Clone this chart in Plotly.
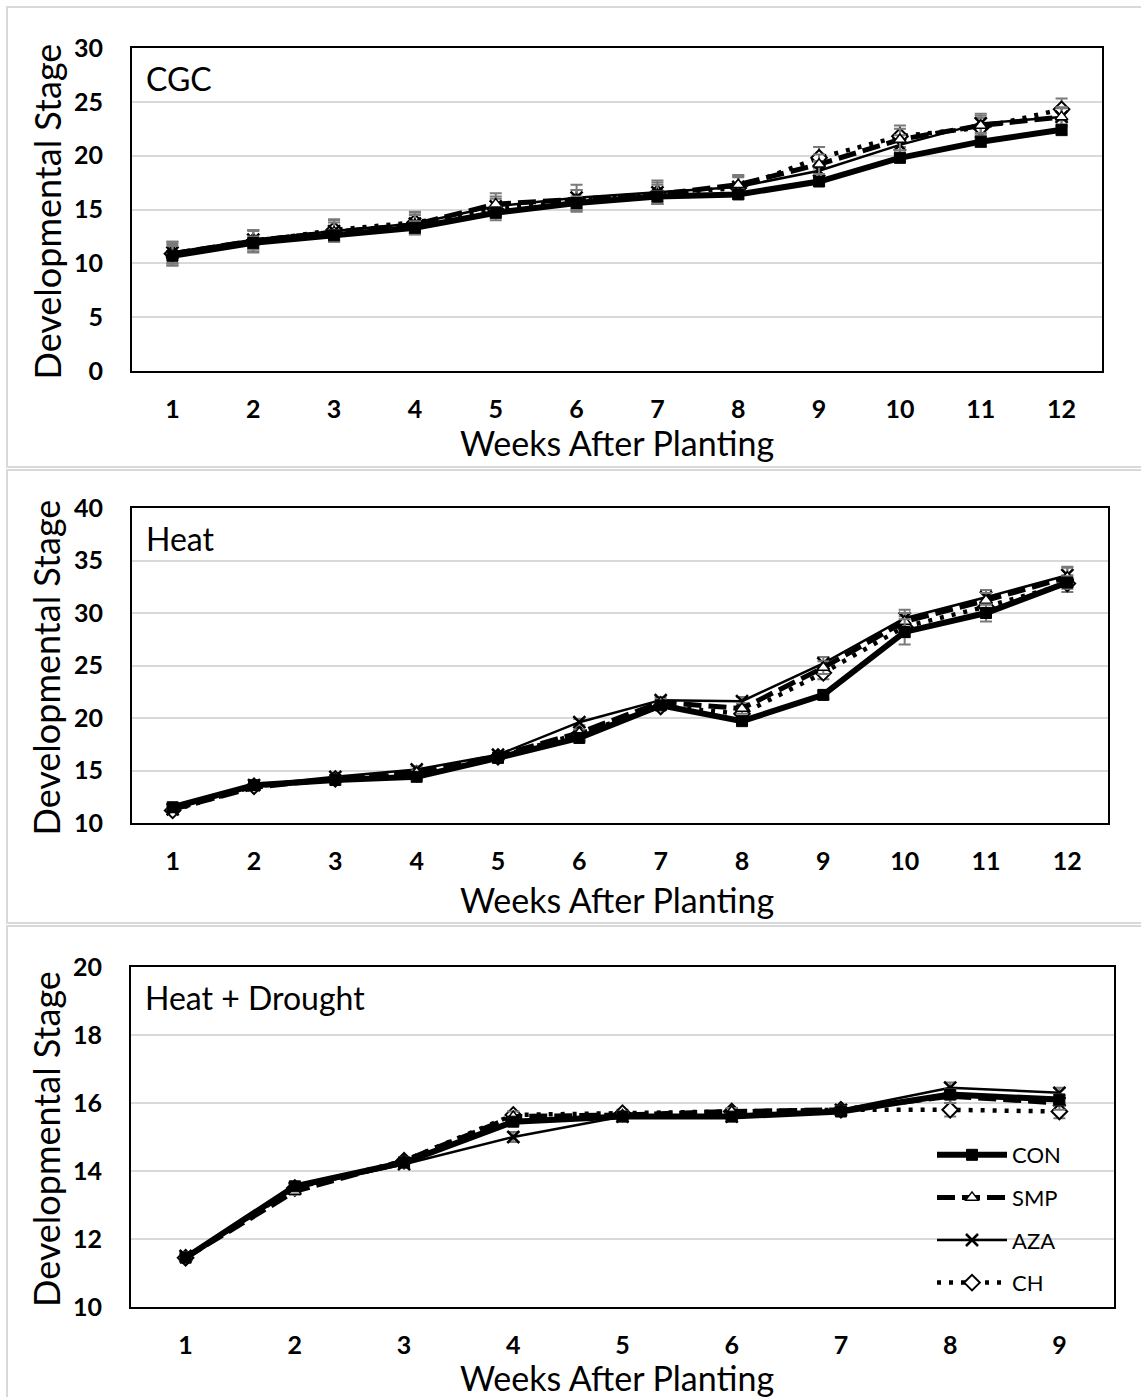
import plotly.graph_objects as go

W, H = 1141, 1397
FONT = "Lato"

series_names = ["CON", "SMP", "AZA", "CH"]

# ---- CGC ----
cgc_weeks = [str(w) for w in range(1, 13)]
cgc_con = [10.7, 11.9, 12.6, 13.3, 14.7, 15.6, 16.2, 16.4, 17.6, 19.8, 21.3, 22.4]
cgc_smp = [10.9, 12.1, 12.9, 13.6, 15.5, 15.9, 16.4, 17.3, 19.2, 21.5, 22.8, 23.6]
cgc_aza = [11.0, 12.2, 13.0, 13.7, 15.3, 16.1, 16.6, 17.1, 18.6, 21.0, 23.0, 23.6]
cgc_ch = [10.9, 12.0, 13.1, 13.8, 15.0, 15.8, 16.5, 17.0, 19.8, 21.8, 22.6, 24.3]
cgc_con_err = [0.9, 0.6, 0.5, 0.6, 0.5, 0.6, 0.5, 0.4, 0.4, 0.4, 0.5, 0.5]
cgc_smp_err = [1.1, 1.0, 0.9, 0.9, 1.0, 0.9, 0.9, 0.9, 0.9, 1.0, 0.9, 0.9]
cgc_aza_err = [1.0, 0.9, 1.0, 1.0, 0.9, 1.2, 1.1, 1.0, 0.9, 0.9, 0.9, 0.8]
cgc_ch_err = [0.9, 1.0, 1.0, 1.0, 1.0, 1.0, 1.0, 1.0, 1.0, 1.0, 0.9, 1.0]

# ---- Heat ----
heat_weeks = [str(w) for w in range(1, 13)]
heat_con = [11.5, 13.6, 14.1, 14.4, 16.2, 18.1, 21.2, 19.7, 22.2, 28.2, 30.0, 32.9]
heat_smp = [11.3, 13.4, 14.2, 14.8, 16.4, 18.6, 21.5, 20.9, 24.8, 29.2, 31.2, 33.4]
heat_aza = [11.3, 13.6, 14.4, 15.1, 16.5, 19.6, 21.7, 21.6, 25.2, 29.5, 31.5, 33.6]
heat_ch = [11.2, 13.5, 14.2, 14.7, 16.3, 18.5, 21.1, 20.4, 24.3, 28.7, 30.6, 32.8]
heat_con_err = [0.2, 0.2, 0.2, 0.2, 0.2, 0.3, 0.3, 0.3, 0.4, 1.2, 0.8, 0.6]
heat_smp_err = [0.2, 0.2, 0.2, 0.2, 0.2, 0.3, 0.3, 0.5, 0.6, 0.8, 0.7, 0.9]
heat_aza_err = [0.2, 0.2, 0.2, 0.3, 0.2, 0.3, 0.3, 0.4, 0.6, 0.8, 0.7, 0.8]
heat_ch_err = [0.2, 0.2, 0.2, 0.2, 0.2, 0.3, 0.3, 0.5, 0.6, 1.0, 0.7, 0.8]

# ---- Heat + Drought ----
hd_weeks = [str(w) for w in range(1, 10)]
hd_con = [11.45, 13.55, 14.25, 15.45, 15.6, 15.6, 15.75, 16.25, 16.1]
hd_smp = [11.45, 13.4, 14.3, 15.6, 15.65, 15.75, 15.8, 16.2, 16.0]
hd_aza = [11.5, 13.5, 14.2, 15.0, 15.6, 15.6, 15.8, 16.45, 16.3]
hd_ch = [11.45, 13.5, 14.3, 15.65, 15.7, 15.75, 15.8, 15.8, 15.75]
hd_con_err = [0.1, 0.1, 0.1, 0.1, 0.1, 0.1, 0.1, 0.15, 0.15]
hd_smp_err = [0.1, 0.1, 0.1, 0.15, 0.1, 0.1, 0.1, 0.2, 0.2]
hd_aza_err = [0.1, 0.1, 0.1, 0.15, 0.1, 0.1, 0.1, 0.15, 0.15]
hd_ch_err = [0.1, 0.1, 0.1, 0.1, 0.1, 0.1, 0.1, 0.2, 0.2]

panels = [
    dict(name="CGC", weeks=cgc_weeks, ys=[cgc_con, cgc_smp, cgc_aza, cgc_ch],
         errs=[cgc_con_err, cgc_smp_err, cgc_aza_err, cgc_ch_err],
         yrange=[0, 30], dtick=5, box=(132, 48, 1102, 371),
         frame=(7, 7, 1160, 467), xlab_y=442),
    dict(name="Heat", weeks=heat_weeks, ys=[heat_con, heat_smp, heat_aza, heat_ch],
         errs=[heat_con_err, heat_smp_err, heat_aza_err, heat_ch_err],
         yrange=[10, 40], dtick=5, box=(132, 508, 1108, 823),
         frame=(7, 470, 1160, 923), xlab_y=899),
    dict(name="Heat + Drought", weeks=hd_weeks, ys=[hd_con, hd_smp, hd_aza, hd_ch],
         errs=[hd_con_err, hd_smp_err, hd_aza_err, hd_ch_err],
         yrange=[10, 20], dtick=2, box=(131, 967, 1114, 1307),
         frame=(7, 926, 1160, 1420), xlab_y=1377),
]

styles = {
    "CON": dict(line=dict(color="black", width=6),
                marker=dict(symbol="square", size=11, color="black",
                            line=dict(color="black", width=1))),
    "SMP": dict(line=dict(color="black", width=5, dash="18px,7px"),
                marker=dict(symbol="triangle-up", size=11, color="white",
                            line=dict(color="black", width=1.5))),
    "AZA": dict(line=dict(color="black", width=2.5),
                marker=dict(symbol="x-thin", size=12, color="black",
                            line=dict(color="black", width=2.5))),
    "CH": dict(line=dict(color="black", width=4.5, dash="4px,8px"),
               marker=dict(symbol="diamond", size=12, color="white",
                           line=dict(color="black", width=2))),
}
legend_rank = {"CON": 1, "SMP": 2, "AZA": 3, "CH": 4}


def px_x(v):
    return v / W


def px_y(v):
    return 1 - v / H


fig = go.Figure()
shapes = []
annotations = []

# CON is drawn last so the thick control line sits on top
draw_order = ["CH", "AZA", "SMP", "CON"]

for i, p in enumerate(panels, start=1):
    sfx = "" if i == 1 else str(i)
    x0, y0, x1, y1 = p["box"]
    data = dict(zip(series_names, zip(p["ys"], p["errs"])))
    for name in draw_order:
        ys, err = data[name]
        fig.add_trace(go.Scatter(
            x=p["weeks"], y=ys, name=name, mode="lines+markers",
            xaxis="x" + sfx, yaxis="y" + sfx,
            line=styles[name]["line"], marker=styles[name]["marker"],
            error_y=dict(type="data", array=err, color="#7a7a7a",
                         thickness=2, width=6),
            showlegend=(i == 3), legendgroup=name,
            legendrank=legend_rank[name],
        ))
    fig.layout["xaxis" + sfx] = dict(
        type="category", domain=[px_x(x0), px_x(x1)],
        range=[-0.5, len(p["weeks"]) - 0.5], anchor="y" + sfx,
        showline=True, mirror=True, linecolor="black", linewidth=2,
        showgrid=False, zeroline=False, ticks="", automargin=False,
        ticklabelstandoff=15,
        tickfont=dict(family=FONT, size=25, color="black", weight="bold"),
    )
    fig.layout["yaxis" + sfx] = dict(
        domain=[px_y(y1), px_y(y0)], range=p["yrange"], dtick=p["dtick"],
        anchor="x" + sfx,
        showline=True, mirror=True, linecolor="black", linewidth=2,
        showgrid=True, gridcolor="#d9d9d9", gridwidth=2, zeroline=False,
        ticks="", ticklabelstandoff=22, automargin=False,
        tickfont=dict(family=FONT, size=25, color="black", weight="bold"),
    )
    fx0, fy0, fx1, fy1 = p["frame"]
    shapes.append(dict(type="rect", xref="paper", yref="paper",
                       x0=px_x(fx0), x1=px_x(fx1), y0=px_y(fy1), y1=px_y(fy0),
                       line=dict(color="#d9d9d9", width=2), layer="below"))
    annotations.append(dict(
        text=p["name"], xref="paper", yref="paper",
        x=px_x(x0 + 12), y=px_y(y0 + 9), xanchor="left", yanchor="top",
        showarrow=False, font=dict(family=FONT, size=32, color="black")))
    annotations.append(dict(
        text="Weeks After Planting", xref="paper", yref="paper",
        x=px_x(617), y=px_y(p["xlab_y"]), xanchor="center", yanchor="middle",
        showarrow=False, font=dict(family=FONT, size=34, color="black")))
    annotations.append(dict(
        text="Developmental Stage", xref="paper", yref="paper", textangle=-90,
        x=px_x(46), y=px_y((y0 + y1) / 2 + 2), xanchor="center", yanchor="middle",
        showarrow=False, font=dict(family=FONT, size=36, color="black")))

fig.update_layout(
    width=W, height=H,
    margin=dict(l=0, r=0, t=0, b=0, autoexpand=False),
    paper_bgcolor="white", plot_bgcolor="white",
    shapes=shapes, annotations=annotations,
    legend=dict(x=px_x(932), y=px_y(1134), xanchor="left", yanchor="top",
                bgcolor="rgba(0,0,0,0)", traceorder="grouped",
                tracegroupgap=11, itemwidth=70,
                font=dict(family=FONT, size=22, color="black")),
)

fig.write_html("out.html")
